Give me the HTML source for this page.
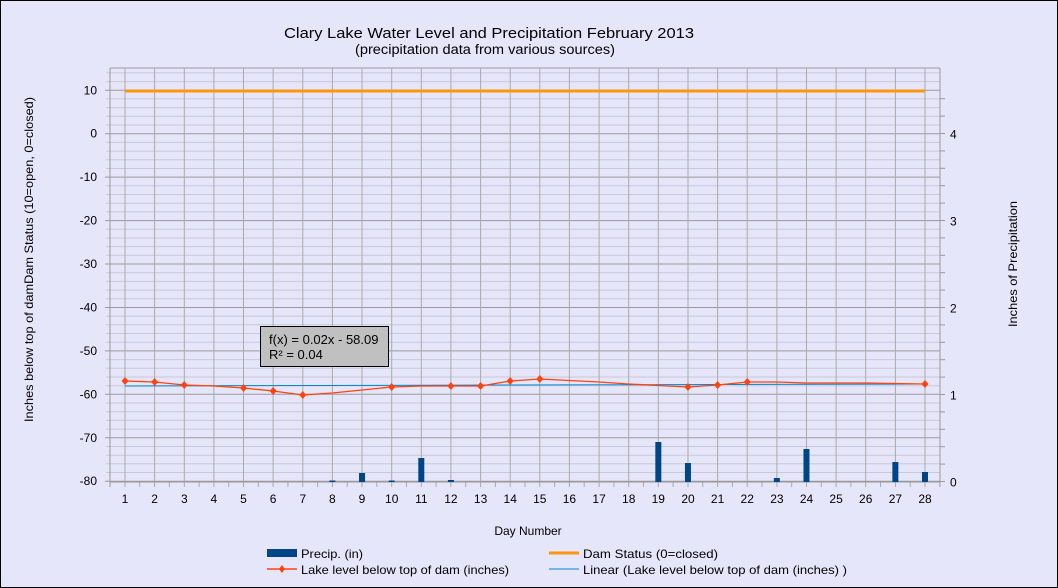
<!DOCTYPE html>
<html><head><meta charset="utf-8"><style>
html,body{margin:0;padding:0;background:#e6e6fa;}
svg{display:block;font-family:"Liberation Sans",sans-serif;}
</style></head><body>
<svg id="s" width="1058" height="588" xmlns="http://www.w3.org/2000/svg">
<rect x="0.5" y="0.5" width="1057" height="587" fill="#e6e6fa" stroke="#000"/>
<g id="grid"></g>
<text x="284" y="38" font-size="15" textLength="410" lengthAdjust="spacingAndGlyphs">Clary Lake Water Level and Precipitation February 2013</text>
<text x="355" y="54" font-size="13.5" textLength="260" lengthAdjust="spacingAndGlyphs">(precipitation data from various sources)</text>
<text transform="translate(33,422) rotate(-90)" font-size="12" textLength="325" lengthAdjust="spacingAndGlyphs">Inches  below  top of  damDam Status (10=open, 0=closed)</text>
<text transform="translate(1017,327) rotate(-90)" font-size="12" textLength="126" lengthAdjust="spacingAndGlyphs">Inches  of  Precipitation</text>
<text x="528" y="535" font-size="12" text-anchor="middle">Day Number</text>
<rect x="260.5" y="326.5" width="128" height="40" fill="#c0c0c0" stroke="#000"/>
<text x="269" y="344" font-size="13">f(x) = 0.02x - 58.09</text>
<text x="269" y="359" font-size="13">R² = 0.04</text>
<rect x="267" y="549" width="30" height="8" fill="#004586"/>
<text x="301" y="558" font-size="12" textLength="62" lengthAdjust="spacingAndGlyphs">Precip. (in)</text>
<line x1="549" y1="553" x2="579" y2="553" stroke="#ff950e" stroke-width="3"/>
<text x="583" y="558" font-size="12" textLength="135" lengthAdjust="spacingAndGlyphs">Dam Status (0=closed)</text>
<line x1="267" y1="569" x2="297" y2="569" stroke="#ff420e" stroke-width="1.5"/>
<path d="M282 565 L285 569 L282 573 L279 569Z" fill="#ff420e"/>
<text x="301" y="574" font-size="12" textLength="208" lengthAdjust="spacingAndGlyphs">Lake level below top of dam (inches)</text>
<line x1="549" y1="569" x2="579" y2="569" stroke="#0084d1" stroke-width="1"/>
<text x="583" y="574" font-size="12" textLength="264" lengthAdjust="spacingAndGlyphs">Linear (Lake level below top of dam (inches)  )</text>
</svg>
<script>
var g=document.getElementById('grid'),h='';
var L=110,R=940,T=68,B=482;
function yl(v){return 133.7-(v*4.344);}
function yr(v){return 481.5-v*87;}
function xd(d){return 125+(d-1)*800/27;}
for(var v=14;v>=-80;v-=2){var y=yl(v).toFixed(1);var maj=(v%10==0);
h+='<line x1="'+(maj?L-5:L-4)+'" y1="'+y+'" x2="'+R+'" y2="'+y+'" stroke="'+(maj?'#999':'#c8c8d8')+'" stroke-width="1"/>';
if(maj)h+='<text x="97" y="'+(+y+4)+'" font-size="12" text-anchor="end">'+v+'</text>';}
for(var r=0;r<=4.6;r+=0.2){var y=yr(r).toFixed(1);h+='<line x1="'+R+'" y1="'+y+'" x2="'+(R+5)+'" y2="'+y+'" stroke="#999"/>';}
for(var r=0;r<=4;r++){h+='<text x="950" y="'+(yr(r)+5)+'" font-size="12">'+r+'</text>';}
h+='<line x1="'+L+'" y1="'+T+'" x2="'+R+'" y2="'+T+'" stroke="#999"/>';
h+='<line x1="'+L+'" y1="'+T+'" x2="'+L+'" y2="'+(B+5)+'" stroke="#999"/>';
h+='<line x1="'+R+'" y1="'+T+'" x2="'+R+'" y2="'+(B+5)+'" stroke="#999"/>';
for(var d=1;d<=28;d++){var x=xd(d).toFixed(1);
h+='<line x1="'+x+'" y1="'+T+'" x2="'+x+'" y2="'+(B+5)+'" stroke="#aaa"/>';
h+='<line x1="'+(xd(d)+14.8).toFixed(1)+'" y1="'+B+'" x2="'+(xd(d)+14.8).toFixed(1)+'" y2="'+(B+5)+'" stroke="#aaa"/>';
h+='<text x="'+x+'" y="503" font-size="12" text-anchor="middle">'+d+'</text>';}
h+='<line x1="'+L+'" y1="'+B+'" x2="'+R+'" y2="'+B+'" stroke="#999"/>';
var bars={8:480.5,9:473,10:480.5,11:458,12:480,19:442,20:463,23:478,24:449,27:462,28:472};
for(var k in bars){h+='<rect x="'+(xd(+k)-3)+'" y="'+bars[k]+'" width="6" height="'+(482-bars[k])+'" fill="#004586"/>';}
h+='<line x1="'+xd(1)+'" y1="91" x2="'+xd(28)+'" y2="91" stroke="#ff950e" stroke-width="3"/>';
h+='<line x1="'+xd(1)+'" y1="386" x2="'+xd(28)+'" y2="384" stroke="#0084d1" stroke-width="1"/>';
var pts=[[1,381],[2,382],[3,385],[5,388],[6,391],[7,395],[10,387],[12,386],[13,386],[14,381],[15,379],[20,387],[21,385],[22,382],[28,384]];
var line=[[1,381],[2,382],[3,385],[4,386],[5,388],[6,391],[7,395],[8,393],[9,390],[10,387],[11,386],[12,386],[13,386],[14,381],[15,379],[16,380.5],[17,382],[18,384],[19,385.5],[20,387],[21,385],[22,382],[23,382],[24,383],[25,383],[26,383],[27,383.5],[28,384]];
var p=line.map(function(a){return xd(a[0]).toFixed(1)+','+a[1];}).join(' ');
h+='<polyline points="'+p+'" fill="none" stroke="#ff420e" stroke-width="1.3"/>';
pts.forEach(function(a){var x=xd(a[0]);h+='<path d="M'+x+' '+(a[1]-4)+' L'+(x+3.5)+' '+a[1]+' L'+x+' '+(a[1]+4)+' L'+(x-3.5)+' '+a[1]+'Z" fill="#ff420e"/>';});
g.innerHTML=h;
</script>
</body></html>
